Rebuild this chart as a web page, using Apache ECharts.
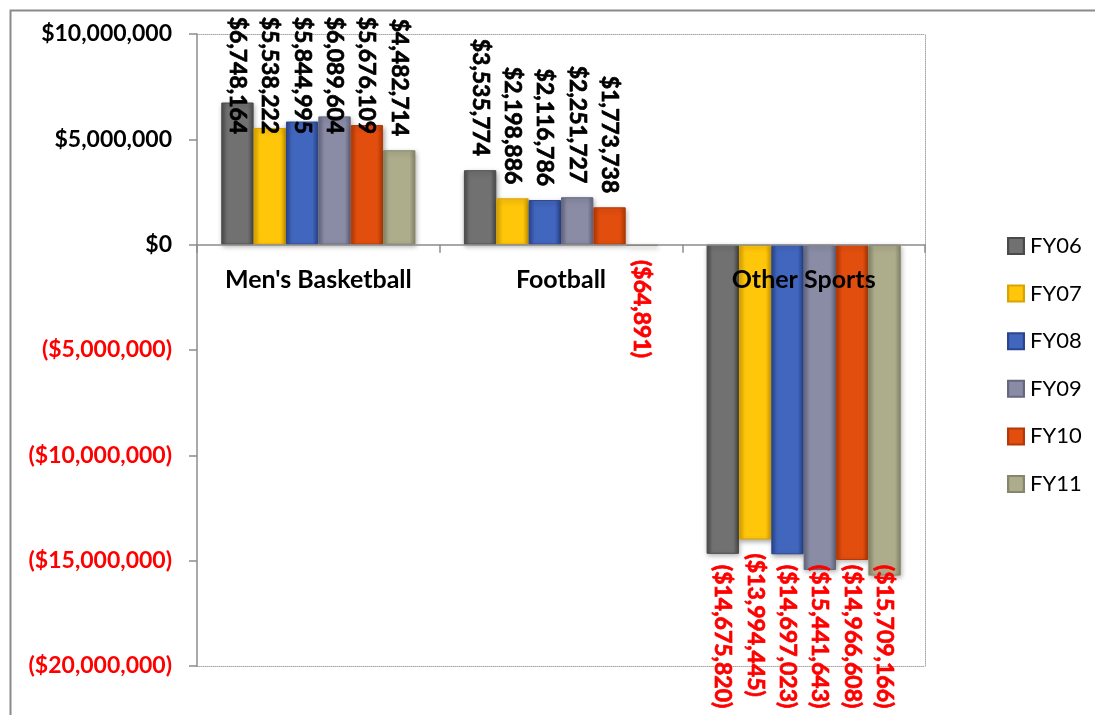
<!DOCTYPE html>
<html>
<head>
<meta charset="utf-8">
<script src="https://cdn.jsdelivr.net/npm/echarts@6/dist/echarts.min.js"></script>
<style>
  html, body { margin: 0; padding: 0; background: #fff; }
  #chart { width: 1095px; height: 715px; }
</style>
</head>
<body>
<div id="chart"></div>
<script>
// Athletics net revenue by program, fiscal years 2006-2011
const categories = ["Men's Basketball", 'Football', 'Other Sports'];
const seriesNames = ['FY06', 'FY07', 'FY08', 'FY09', 'FY10', 'FY11'];
const fy06 = [6748164, 3535774, -14675820];
const fy07 = [5538222, 2198886, -13994445];
const fy08 = [5844995, 2116786, -14697023];
const fy09 = [6089604, 2251727, -15441643];
const fy10 = [5676109, 1773738, -14966608];
const fy11 = [4482714, -64891, -15709166];
const seriesValues = [fy06, fy07, fy08, fy09, fy10, fy11];
const yTicks = { min: -20000000, max: 10000000, step: 5000000 };

// edge / face colours for the bevelled bars
const palette = [
  ['#4a4a4a', '#717171'],
  ['#d9a300', '#ffc60a'],
  ['#2a4590', '#4166bd'],
  ['#65677f', '#8a8ca6'],
  ['#b33806', '#e24e0e'],
  ['#86866a', '#adad8c']
];

const FONT = 'Lato';
const W = 1095, H = 715;
const GRID = { left: 197, right: 170, top: 34, bottom: 49 };

// distance of the zero line above the bottom of the plot area
const gridH = H - GRID.top - GRID.bottom;
const zeroLift = gridH * (0 - yTicks.min) / (yTicks.max - yTicks.min);

function money(v) {
  const s = Math.abs(v).toLocaleString('en-US');
  return v < 0 ? '($' + s + ')' : '$' + s;
}

function barColor(c) {
  return new echarts.graphic.LinearGradient(0, 0, 1, 0, [
    { offset: 0, color: c[0] },
    { offset: 0.18, color: c[1] },
    { offset: 0.82, color: c[1] },
    { offset: 1, color: c[0] }
  ]);
}

const chart = echarts.init(document.getElementById('chart'));

// value labels stay inside the chart frame
const LABEL_TOP = 16;
const LABEL_BOTTOM = 709;

const series = seriesNames.map((name, i) => ({
  name: name,
  type: 'bar',
  barGap: '0%',
  barCategoryGap: '20%',
  itemStyle: {
    color: barColor(palette[i]),
    borderColor: palette[i][0],
    borderWidth: 1,
    shadowBlur: 5,
    shadowColor: 'rgba(0,0,0,0.35)',
    shadowOffsetX: 1,
    shadowOffsetY: 2
  },
  label: {
    show: true,
    rotate: -90,
    verticalAlign: 'middle',
    fontFamily: FONT,
    fontWeight: 'bold',
    fontSize: 23,
    textBorderWidth: 0.7,
    formatter: (p) => money(p.value)
  },
  data: seriesValues[i].map((v) => ({
    value: v,
    label: v < 0
      ? { position: 'bottom', align: 'left', distance: 14, color: '#ff0000', textBorderColor: '#ff0000' }
      : { position: 'top', align: 'right', distance: 14, color: '#000000', textBorderColor: '#000000' }
  })),
  labelLayout: function (p) {
    const r = p.labelRect;
    const cx = r.x + r.width / 2;
    if (r.y < LABEL_TOP) {
      // anchor is the lower end of the text
      return { x: cx, y: LABEL_TOP + r.height };
    }
    if (r.y + r.height > LABEL_BOTTOM) {
      // anchor is the upper end of the text
      return { x: cx, y: LABEL_BOTTOM - r.height };
    }
    return {};
  }
}));

const frameLine = { show: true, lineStyle: { color: '#a8a8a8', width: 1, type: 'dotted' } };
const hidden = { show: false };

chart.setOption({
  animation: false,
  backgroundColor: '#ffffff',
  graphic: [{
    type: 'rect',
    left: 8, top: 8,
    shape: { width: 1200, height: 800 },
    style: { fill: 'none', stroke: '#8a8a8a', lineWidth: 2 },
    silent: true
  }],
  grid: {
    left: GRID.left, right: GRID.right, top: GRID.top, bottom: GRID.bottom
  },
  legend: {
    orient: 'vertical',
    left: 1007,
    top: 235,
    padding: 0,
    itemWidth: 16,
    itemHeight: 16,
    itemGap: 25.6,
    icon: 'rect',
    textStyle: { fontFamily: FONT, fontSize: 22, color: '#000', padding: [0, 0, 0, 1] },
    data: seriesNames
  },
  xAxis: [{
    type: 'category',
    data: categories,
    z: 10,
    offset: -zeroLift,
    axisLine: { onZero: false, lineStyle: { color: '#8c8c8c', width: 1.5 } },
    axisTick: { show: true, length: 8, lineStyle: { color: '#8c8c8c', width: 1.5 } },
    axisLabel: {
      interval: 0,
      margin: 23,
      fontFamily: FONT,
      fontWeight: 'bold',
      fontSize: 25,
      color: '#000'
    }
  }, {
    type: 'category', data: categories, position: 'top',
    axisLine: Object.assign({ onZero: false }, frameLine),
    axisTick: hidden, axisLabel: hidden
  }, {
    type: 'category', data: categories, position: 'bottom',
    axisLine: Object.assign({ onZero: false }, frameLine),
    axisTick: hidden, axisLabel: hidden
  }],
  yAxis: [{
    type: 'value',
    min: yTicks.min,
    max: yTicks.max,
    interval: yTicks.step,
    z: 5,
    axisLine: { show: true, lineStyle: { color: '#8c8c8c', width: 1.5 } },
    axisTick: { show: true, length: 8, lineStyle: { color: '#8c8c8c', width: 1.5 } },
    splitLine: { show: false },
    axisLabel: {
      margin: 25,
      fontFamily: FONT,
      fontWeight: 'bold',
      fontSize: 23,
      formatter: (v) => money(v),
      color: (v) => (Number(v) < 0 ? '#ff0000' : '#000000')
    }
  }, {
    type: 'value', position: 'right',
    min: yTicks.min, max: yTicks.max, interval: yTicks.step,
    axisLine: Object.assign({ onZero: false }, frameLine),
    axisTick: hidden, axisLabel: hidden, splitLine: hidden
  }],
  series: series
});
</script>
</body>
</html>
